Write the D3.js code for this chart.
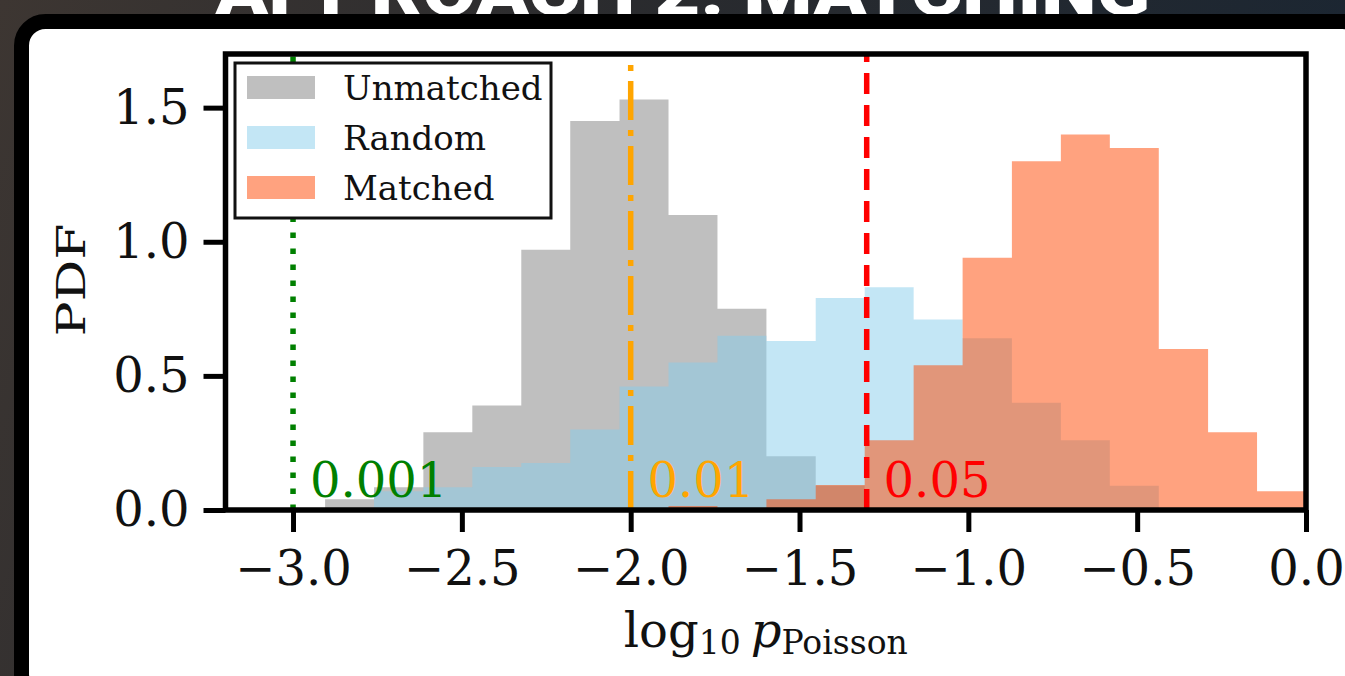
<!DOCTYPE html>
<html>
<head>
<meta charset="utf-8">
<script src="https://cdn.jsdelivr.net/npm/d3@7"></script>
<style>
  html, body { margin: 0; padding: 0; overflow: hidden; background: #2a2a2c; }
  svg { display: block; }
</style>
</head>
<body>
<svg id="chart"></svg>
<script>
// histogram bin edges (log10 p) shared by the three samples
const binEdges = [-2.905, -2.760, -2.614, -2.469, -2.324, -2.179, -2.033, -1.888, -1.743, -1.598,
  -1.452, -1.307, -1.162, -1.017, -0.871, -0.726, -0.581, -0.436, -0.290, -0.145, 0.000];

// PDF per bin
const unmatched = [0.04, 0.085, 0.29, 0.39, 0.97, 1.45, 1.53, 1.10, 0.75, 0.20,
  0.09, 0, 0, 0, 0, 0, 0, 0, 0, 0];
const random = [0, 0.07, 0.085, 0.16, 0.175, 0.30, 0.46, 0.55, 0.65, 0.63,
  0.79, 0.83, 0.71, 0.64, 0.40, 0.26, 0.09, 0, 0, 0];
const matched = [0, 0, 0, 0, 0, 0, 0, 0.015, 0, 0.04,
  0.093, 0.26, 0.54, 0.94, 1.30, 1.40, 1.35, 0.60, 0.29, 0.07];

const seriesNames = ["Unmatched", "Random", "Matched"];
const seriesColors = ["#808080", "#87ceeb", "#ff4500"];

// significance thresholds drawn as vertical lines
const thresholds = [0.001, 0.01, 0.05];
const thresholdLabels = ["0.001", "0.01", "0.05"];
const thresholdColors = ["#008000", "#ffa500", "#ff0000"];
const thresholdDashes = ["5.5 10.5", "39 10 6 10", "21 11"];

const xTicks = [-3, -2.5, -2, -1.5, -1, -0.5, 0];
const yTicks = [0, 0.5, 1, 1.5];

const width = 1345;
const height = 676;
const plotLeft = 225.5;
const plotRight = 1306;
const plotTop = 54;
const plotBottom = 510;
const serif = "'DejaVu Serif', serif";

const svg = d3.select("#chart")
  .attr("width", width)
  .attr("height", height);

// slide backdrop, cut-off title and the framed white panel
const grad = svg.append("defs").append("linearGradient")
  .attr("id", "bg")
  .attr("x1", 0).attr("x2", 1).attr("y1", 0).attr("y2", 0.2);
grad.append("stop").attr("offset", 0).attr("stop-color", "#3d3632");
grad.append("stop").attr("offset", 0.45).attr("stop-color", "#2a2b2e");
grad.append("stop").attr("offset", 1).attr("stop-color", "#1b2632");

svg.append("rect")
  .attr("width", width)
  .attr("height", height)
  .attr("fill", "url(#bg)");

svg.append("text")
  .attr("x", 215)
  .attr("y", 15)
  .attr("textLength", 935)
  .attr("lengthAdjust", "spacingAndGlyphs")
  .attr("font-family", "Roboto, 'Liberation Sans', sans-serif")
  .attr("font-weight", 900)
  .attr("font-size", 66)
  .attr("fill", "#fff")
  .text("APPROACH 2: MATCHING");

svg.append("rect")
  .attr("x", 21.5)
  .attr("y", 21.5)
  .attr("width", width)
  .attr("height", height)
  .attr("rx", 24)
  .attr("fill", "#fff")
  .attr("stroke", "#000")
  .attr("stroke-width", 15);

// scales
const x = d3.scaleLinear()
  .domain([-3.2, 0])
  .range([plotLeft, plotRight]);

const y = d3.scaleLinear()
  .domain([0, 1.70])
  .range([plotBottom, plotTop]);

// histograms as step areas, each semi-transparent
const area = d3.area()
  .curve(d3.curveStepAfter)
  .x(d => x(d[0]))
  .y0(y(0))
  .y1(d => y(d[1]));

[unmatched, random, matched].forEach((vals, k) => {
  const pts = binEdges.map((e, i) => [e, vals[Math.min(i, vals.length - 1)]]);
  svg.append("path")
    .datum(pts)
    .attr("d", area)
    .attr("fill", seriesColors[k])
    .attr("fill-opacity", 0.5);
});

// threshold lines + labels
thresholds.forEach((p, i) => {
  const lx = x(Math.log10(p));
  svg.append("line")
    .attr("x1", lx).attr("x2", lx)
    .attr("y1", y(0)).attr("y2", plotTop)
    .attr("stroke", thresholdColors[i])
    .attr("stroke-width", 5.5)
    .attr("stroke-dasharray", thresholdDashes[i]);

  svg.append("text")
    .attr("x", x(Math.log10(p) + 0.05))
    .attr("y", y(0.05))
    .attr("font-family", serif)
    .attr("font-size", 48)
    .attr("fill", thresholdColors[i])
    .text(thresholdLabels[i]);
});

// axes
svg.append("g")
  .attr("transform", `translate(0,${plotBottom})`)
  .call(d3.axisBottom(x).tickValues(xTicks).tickFormat(d3.format(".1f")).tickSize(22).tickPadding(19))
  .call(g => g.select(".domain").remove())
  .call(g => g.selectAll("line").attr("stroke", "#000").attr("stroke-width", 5))
  .call(g => g.selectAll("text").attr("fill", "#111").attr("font-size", 48).attr("font-family", serif));

svg.append("g")
  .attr("transform", `translate(${plotLeft},0)`)
  .call(d3.axisLeft(y).tickValues(yTicks).tickFormat(d3.format(".1f")).tickSize(22).tickPadding(14))
  .call(g => g.select(".domain").remove())
  .call(g => g.selectAll("line").attr("stroke", "#000").attr("stroke-width", 5))
  .call(g => g.selectAll("text").attr("fill", "#111").attr("font-size", 48).attr("font-family", serif));

// spines
svg.append("rect")
  .attr("x", plotLeft)
  .attr("y", plotTop)
  .attr("width", plotRight - plotLeft)
  .attr("height", plotBottom - plotTop)
  .attr("fill", "none")
  .attr("stroke", "#000")
  .attr("stroke-width", 5.5);

// axis labels
const xl = svg.append("text")
  .attr("x", (plotLeft + plotRight) / 2)
  .attr("y", 647)
  .attr("text-anchor", "middle")
  .attr("font-family", serif)
  .attr("font-size", 48)
  .attr("fill", "#111");
xl.append("tspan").text("log");
xl.append("tspan").attr("font-size", 33).attr("dy", 7).text("10");
xl.append("tspan").attr("dy", -7).attr("dx", 10).attr("font-style", "italic").text("p");
xl.append("tspan").attr("font-size", 33).attr("dy", 7).text("Poisson");

svg.append("text")
  .attr("transform", "translate(85,280) rotate(-90)")
  .attr("text-anchor", "middle")
  .attr("font-family", serif)
  .attr("font-size", 39)
  .attr("textLength", 113)
  .attr("lengthAdjust", "spacingAndGlyphs")
  .attr("fill", "#111")
  .text("PDF");

// legend
const legend = svg.append("g");
legend.append("rect")
  .attr("x", 235)
  .attr("y", 63)
  .attr("width", 316)
  .attr("height", 155)
  .attr("fill", "#fff")
  .attr("stroke", "#111")
  .attr("stroke-width", 3);

seriesNames.forEach((name, i) => {
  const cy = 87.5 + i * 50;
  legend.append("rect")
    .attr("x", 247)
    .attr("y", cy - 11.5)
    .attr("width", 68)
    .attr("height", 23)
    .attr("fill", seriesColors[i])
    .attr("fill-opacity", 0.5);
  legend.append("text")
    .attr("x", 343)
    .attr("y", cy + 12)
    .attr("font-family", serif)
    .attr("font-size", 34)
    .attr("fill", "#111")
    .text(name);
});
</script>
</body>
</html>
